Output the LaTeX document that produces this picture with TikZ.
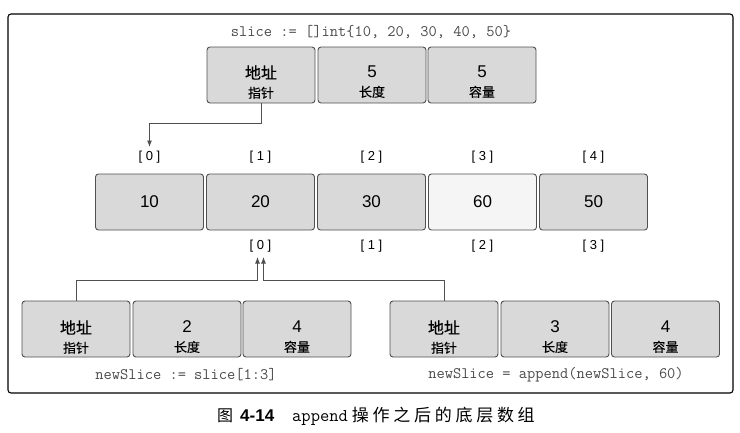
\documentclass[tikz,border=0pt]{standalone}
\usepackage{fontspec}
\setmainfont{Liberation Sans}
\newfontfamily\cjk[FakeBold=0.3]{Noto Sans CJK SC}
\newfontfamily\cjkplain{Noto Sans CJK SC}
\newfontfamily\cjkcap[LetterSpace=22]{Noto Sans CJK SC}
\newfontfamily\codefont{Latin Modern Mono}
\usetikzlibrary{arrows.meta}
\definecolor{boxfill}{HTML}{D9D9D9}
\definecolor{boxline}{HTML}{505050}
\definecolor{codegray}{HTML}{4A4A4A}
\begin{document}
\begin{tikzpicture}[x=1pt,y=-1pt,
  cell/.style={draw=boxline,line width=0.9pt,fill=boxfill,rounded corners=3pt,
    minimum width=108pt,minimum height=56pt,inner sep=0pt,align=center},
  ctext/.style={inner sep=0pt,align=center,font=\fontsize{12}{19}\selectfont},
  cellnew/.style={cell,fill=white!96!black},
  num/.style={font=\fontsize{17}{20}\selectfont},
  idx/.style={font=\fontsize{13}{15}\selectfont,inner sep=0pt},
  code/.style={font=\codefont\fontsize{16}{18}\selectfont,text=codegray,inner sep=0pt},
  conn/.style={draw=boxline,line width=0.9pt},
  tip/.style={-{Latex[length=6.5pt,width=5pt]}}
]
\useasboundingbox (0,0) rectangle (740,432);
\draw[line width=1.1pt,rounded corners=3pt] (8,14) rectangle (733,393);

\newcommand{\ptrtext}{{\cjk\fontsize{16}{18}\selectfont 地址}\\{\cjk\fontsize{13}{15}\selectfont 指针}}
\newcommand{\lentext}[1]{{\fontsize{17}{19}\selectfont #1}\\{\cjk\fontsize{13}{15}\selectfont 长度}}
\newcommand{\captext}[1]{{\fontsize{17}{19}\selectfont #1}\\{\cjk\fontsize{13}{15}\selectfont 容量}}

% title
\node[code] (title) at (371,32) {slice := []int\{10, 20, 30, 40, 50\}};

% top slice header
\node[cell] (sp) at (261,75) {};
\node[cell] (sl) at (372,75) {};
\node[cell] (sc) at (482,75) {};
\node[ctext] (spt) at (261,82) {\ptrtext};
\node[ctext] (slt) at (372,82) {\lentext{5}};
\node[ctext] (sct) at (482,82) {\captext{5}};

% array
\node[cell,num] (a0) at (149.5,202) {10};
\node[cell,num] (a1) at (260.5,202) {20};
\node[cell,num] (a2) at (371.5,202) {30};
\node[cellnew,num] (a3) at (482.5,202) {60};
\node[cell,num] (a4) at (593.5,202) {50};

\node[idx] (i0) at (149.5,157) {[ 0 ]};
\node[idx] (i1) at (260.5,157) {[ 1 ]};
\node[idx] (i2) at (371.5,157) {[ 2 ]};
\node[idx] (i3) at (482.5,157) {[ 3 ]};
\node[idx] (i4) at (593.5,157) {[ 4 ]};

\node[idx] (j0) at (260.5,246) {[ 0 ]};
\node[idx] (j1) at (371.5,246) {[ 1 ]};
\node[idx] (j2) at (482.5,246) {[ 2 ]};
\node[idx] (j3) at (593.5,246) {[ 3 ]};

% bottom left slice
\node[cell] (lp) at (76,329) {};
\node[cell] (ll) at (187,329) {};
\node[cell] (lc) at (297,329) {};
\node[ctext] (lpt) at (76,337) {\ptrtext};
\node[ctext] (llt) at (187,337) {\lentext{2}};
\node[ctext] (lct) at (297,337) {\captext{4}};
\node[code] (lcode) at (186,375) {newSlice := slice[1:3]};

% bottom right slice
\node[cell] (rp) at (444,329) {};
\node[cell] (rl) at (555,329) {};
\node[cell] (rc) at (665.5,329) {};
\node[ctext] (rpt) at (444,337) {\ptrtext};
\node[ctext] (rlt) at (555,337) {\lentext{3}};
\node[ctext] (rct) at (665.5,337) {\captext{4}};
\node[code] (rcode) at (556,375) {newSlice = append(newSlice, 60)};

% connectors
\coordinate (t0) at (149.5,147);
\coordinate (tl) at (257.5,257);
\coordinate (tr) at (263.5,257);
\draw[conn,tip] (sp.south) -- (261,123) -| (t0);
\draw[conn,tip] (lp.north) |- (257.5,280) -- (tl);
\draw[conn,tip] (rp.north) |- (263.5,280) -- (tr);

% caption
\node[inner sep=0pt,anchor=west] (cap) at (217,416) {{\cjkplain\fontsize{16}{18}\selectfont 图}\hspace{7pt}{\bfseries\fontsize{17}{19}\selectfont 4-14}\hspace{18pt}{\codefont\fontsize{18}{20}\selectfont append}\hspace{4pt}{\cjkcap\fontsize{17}{19}\selectfont 操作之后的底层数组}};
\end{tikzpicture}
\end{document}
